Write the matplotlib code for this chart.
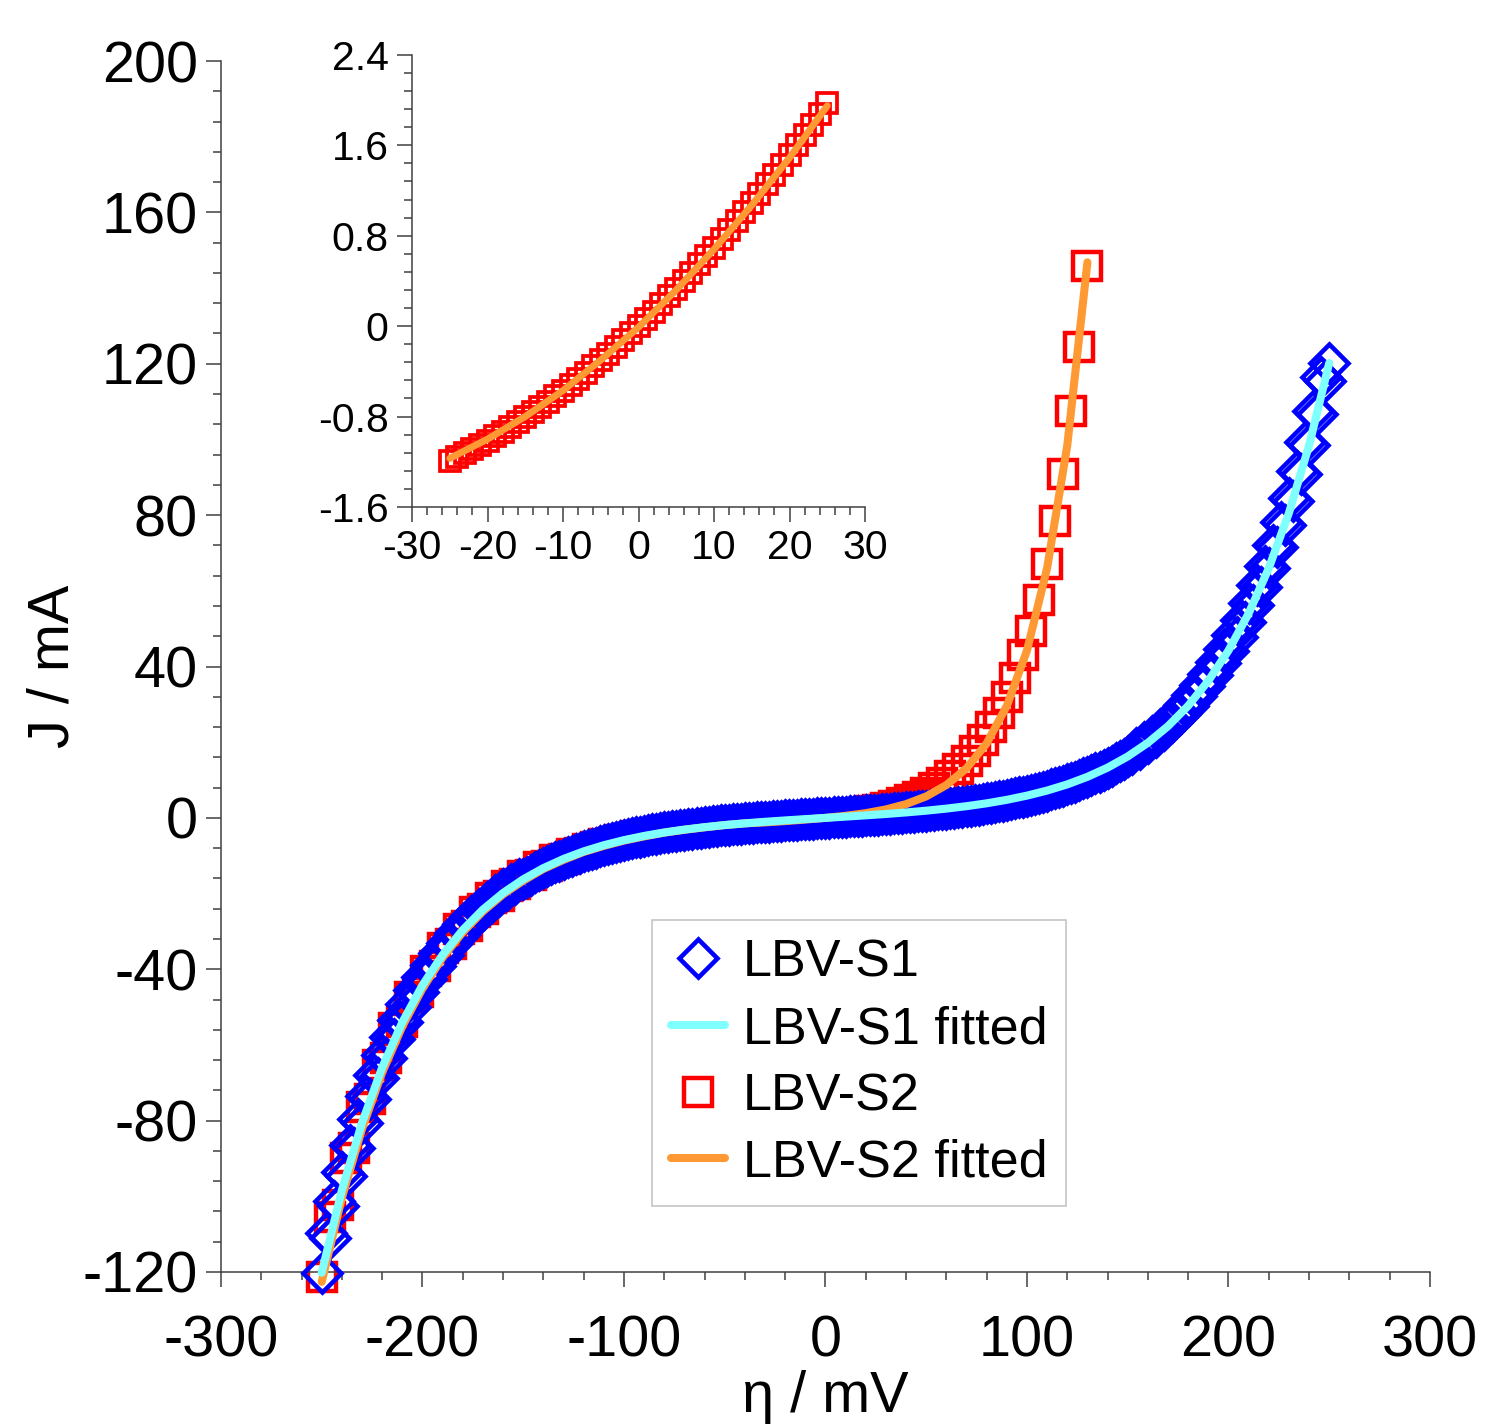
import matplotlib
matplotlib.use("Agg")
import matplotlib.pyplot as plt
from matplotlib.lines import Line2D
from matplotlib.ticker import MultipleLocator, FuncFormatter

plt.rcParams['font.family'] = ['Liberation Sans', 'DejaVu Sans']
plt.rcParams['axes.unicode_minus'] = False

# ---------------- LBV-S1: measured polarisation data (2 mV sweep) ----------------
s1_eta = list(range(-250, 252, 2))
s1_J_cathodic = [
    -120.20, -109.72, -110.96, -101.28, -102.43, -93.49, -94.56, -86.31, -87.29, -79.67,
    -80.57, -73.55, -74.38, -67.89, -68.66, -62.67, -63.38, -57.86, -58.51, -53.40,
    -54.01, -49.30, -49.86, -45.51, -46.02, -42.01, -42.49, -38.78, -39.22, -35.81,
    -36.21, -33.05, -33.42, -30.50, -30.85, -28.14, -28.46, -25.97, -26.27, -23.97,
    -24.24, -22.13, -22.38, -20.43, -20.65, -18.85, -19.06, -17.39, -17.58, -16.05,
    -16.23, -15.59, -14.98, -14.39, -13.82, -13.27, -12.75, -12.24, -11.76, -11.29,
    -10.85, -10.42, -10.00, -9.60, -9.22, -8.85, -8.50, -8.16, -7.84, -7.52,
    -7.22, -6.93, -6.65, -6.38, -6.12, -5.88, -5.64, -5.41, -5.18, -4.97,
    -4.77, -4.57, -4.38, -4.20, -4.02, -3.85, -3.68, -3.53, -3.37, -3.23,
    -3.09, -2.95, -2.82, -2.69, -2.57, -2.45, -2.33, -2.22, -2.11, -2.01,
    -1.90, -1.81, -1.71, -1.62, -1.53, -1.44, -1.35, -1.27, -1.19, -1.11,
    -1.03, -0.96, -0.88, -0.81, -0.74, -0.67, -0.60, -0.53, -0.46, -0.39,
    -0.33, -0.26, -0.19, -0.13, -0.07]
s1_J_anodic = [
    0.00, 0.07, 0.13, 0.19, 0.26, 0.33, 0.39, 0.46, 0.53, 0.60,
    0.67, 0.74, 0.81, 0.88, 0.96, 1.03, 1.11, 1.19, 1.27, 1.35,
    1.44, 1.53, 1.62, 1.71, 1.81, 1.90, 2.01, 2.11, 2.22, 2.33,
    2.45, 2.57, 2.69, 2.82, 2.95, 3.09, 3.23, 3.37, 3.53, 3.68,
    3.85, 4.02, 4.20, 4.38, 4.57, 4.77, 4.97, 5.18, 5.41, 5.64,
    5.88, 6.12, 6.38, 6.65, 6.93, 7.22, 7.52, 7.84, 8.16, 8.50,
    8.85, 9.22, 9.60, 10.00, 10.42, 10.85, 11.29, 11.76, 12.24, 12.75,
    13.27, 13.82, 14.39, 14.98, 15.59, 16.23, 16.89, 18.46, 18.30, 20.01,
    19.84, 21.68, 21.50, 23.50, 23.29, 25.45, 25.23, 27.58, 27.34, 29.88,
    29.62, 32.39, 32.11, 35.09, 34.79, 38.02, 37.69, 41.18, 40.82, 44.61,
    44.22, 48.32, 47.90, 52.35, 51.89, 56.71, 56.21, 61.44, 60.90, 66.55,
    65.97, 72.09, 71.46, 78.10, 77.42, 84.60, 83.86, 91.65, 90.85, 99.29,
    98.41, 107.55, 106.61, 116.51, 115.49, 120.20]
s1_J = s1_J_cathodic + s1_J_anodic

# ---------------- LBV-S1: Butler-Volmer fit ----------------
s1_fit_eta = list(range(-250, 260, 10))
s1_fit_J = [
    -120.2, -98.41, -80.57, -65.97, -54.01, -44.22, -36.21, -29.62, -24.24, -19.84,
    -16.23, -13.27, -10.85, -8.85, -7.22, -5.88, -4.77, -3.85, -3.09, -2.45,
    -1.90, -1.44, -1.03, -0.67, -0.33, 0.0,
    0.33, 0.67, 1.03, 1.44, 1.90, 2.45, 3.09, 3.85, 4.77, 5.88,
    7.22, 8.85, 10.85, 13.27, 16.23, 19.84, 24.24, 29.62, 36.21, 44.22,
    54.01, 65.97, 80.57, 98.41, 120.2]

# ---------------- LBV-S2: measured polarisation data (4 mV sweep) ----------------
s2_eta = list(range(-250, 134, 4))
s2_J = [
    -121.4, -105.4, -102.4, -89.8, -87.3, -76.5, -74.4, -65.2, -63.4, -55.6,
    -54.0, -47.4, -46.0, -40.4, -39.2, -34.4, -33.4, -29.3, -28.5, -25.0,
    -24.2, -21.3, -20.7, -18.1, -17.6, -15.4, -15.0, -13.1, -12.8, -11.2,
    -10.9, -9.5, -9.2, -8.1, -7.8, -6.9, -6.7, -5.8, -5.6, -4.9,
    -4.8, -4.2, -4.0, -3.5, -3.4, -2.95, -2.8, -2.45, -2.3, -2.05,
    -1.9, -1.75, -1.6, -1.5, -1.43, -1.33, -1.22, -1.09, -0.94, -0.76,
    -0.57, -0.36, -0.12,
    0.13, 0.40, 0.69, 1.01, 1.34, 1.69, 2.07, 2.6, 3.2, 3.9,
    4.7, 5.6, 6.7, 7.9, 9.3, 11.0, 12.9, 15.1, 17.6, 20.5,
    23.9, 27.7, 32.0, 37.0, 43.0, 49.5, 57.5, 67.0, 78.5, 91.0,
    107.5, 124.5, 145.8]

# ---------------- LBV-S2: Butler-Volmer fit ----------------
s2_fit_eta = list(range(-250, 140, 10))
s2_fit_J = [
    -122.6, -100.4, -82.2, -67.3, -55.1, -45.1, -36.9, -30.2, -24.7, -20.2,
    -16.6, -13.5, -11.1, -9.0, -7.4, -6.0, -4.9, -3.9, -3.15, -2.5,
    -1.9, -1.45, -1.2, -0.85, -0.45, 0.0, 0.55, 1.25, 2.24, 3.64,
    5.68, 8.68, 13.1, 19.7, 29.6, 44.2, 66.0, 98.4, 146.8]

# ---------------- LBV-S2 close to equilibrium (inset) ----------------
s2_lin_eta = list(range(-25, 26, 1))
s2_lin_J = [
    -1.190, -1.158, -1.124, -1.088, -1.052, -1.014, -0.976, -0.936, -0.894, -0.851,
    -0.808, -0.763, -0.717, -0.668, -0.619, -0.570, -0.518, -0.466, -0.411, -0.357,
    -0.300, -0.243, -0.184, -0.124, -0.062, 0.000, 0.064, 0.129, 0.195, 0.263,
    0.332, 0.402, 0.473, 0.546, 0.620, 0.694, 0.771, 0.848, 0.927, 1.007,
    1.088, 1.171, 1.255, 1.340, 1.426, 1.514, 1.603, 1.692, 1.784, 1.876,
    1.970]
s2_lin_fit_eta = [-25, -20, -15, -10, -5, 0, 5, 10, 15, 20, 25]
s2_lin_fit_J = [-1.17, -1.00, -0.80, -0.57, -0.30, -0.01, 0.32, 0.68, 1.07, 1.49, 1.95]

labels = ['LBV-S1', 'LBV-S1 fitted', 'LBV-S2', 'LBV-S2 fitted']

BLUE, CYAN, RED, ORANGE = '#0000FF', '#80FFFF', '#FF0000', '#FF9933'
SPINE = '#404040'
D_MS, D_MEW = 19.5, 3.3
S_MS, S_MEW = 20.5, 3.2
LW = 5.8

fig = plt.figure(figsize=(14.95, 14.26), dpi=100)
ax = fig.add_axes([0.1478, 0.1080, 0.8087, 0.8492])
ins = fig.add_axes([0.2756, 0.6445, 0.3030, 0.3170])

for a in (ax, ins):
    a.spines['top'].set_visible(False)
    a.spines['right'].set_visible(False)
    for s in ('left', 'bottom'):
        a.spines[s].set_color(SPINE)
        a.spines[s].set_linewidth(1.1)

# main panel
ax.plot(s2_eta, s2_J, ls='none', marker='s', ms=S_MS, mfc='none', mec=RED, mew=S_MEW,
        clip_on=False, zorder=2)
ax.plot(s1_eta, s1_J, ls='none', marker='D', ms=D_MS, mfc='none', mec=BLUE, mew=D_MEW,
        clip_on=False, zorder=3)
ax.plot(s2_fit_eta, s2_fit_J, color=ORANGE, lw=LW, solid_capstyle='round',
        clip_on=False, zorder=4)
ax.plot(s1_fit_eta, s1_fit_J, color=CYAN, lw=LW, solid_capstyle='round',
        clip_on=False, zorder=5)

ax.set_xlim(-300, 300)
ax.set_ylim(-120, 200)
ax.xaxis.set_major_locator(MultipleLocator(100))
ax.xaxis.set_minor_locator(MultipleLocator(20))
ax.yaxis.set_major_locator(MultipleLocator(40))
ax.yaxis.set_minor_locator(MultipleLocator(8))
ax.tick_params(which='major', direction='out', length=10.8, width=1.1, color=SPINE,
               labelsize=41.5)
ax.tick_params(which='minor', direction='out', length=5.8, width=1.1, color=SPINE)
ax.tick_params(axis='x', which='major', pad=20)
ax.tick_params(axis='y', which='major', pad=6)

ax.set_xlabel('η / mV', fontsize=41.5)
ax.xaxis.set_label_coords(0.5, -0.1160)
ax.xaxis.label.set_va('baseline')
ax.set_ylabel('J / mA', fontsize=41.5)
ax.yaxis.set_label_coords(-0.1385, 0.5)
ax.yaxis.label.set_va('center')

handles = [
    Line2D([], [], ls='none', marker='D', ms=D_MS, mfc='none', mec=BLUE, mew=D_MEW),
    Line2D([], [], color=CYAN, lw=LW, solid_capstyle='round'),
    Line2D([], [], ls='none', marker='s', ms=S_MS * 0.95, mfc='none', mec=RED, mew=S_MEW),
    Line2D([], [], color=ORANGE, lw=LW, solid_capstyle='round'),
]
leg = ax.legend(handles, labels, loc='upper left', bbox_to_anchor=(0.3565, 0.2908),
                borderaxespad=0, fontsize=37.5, frameon=True, fancybox=False,
                edgecolor='#C0C0C0', framealpha=1, borderpad=0.36, labelspacing=0.34,
                handlelength=1.05, handletextpad=0.34)
leg.get_frame().set_linewidth(1.1)

# inset: linear region around equilibrium
ins.plot(s2_lin_eta, s2_lin_J, ls='none', marker='s', ms=14, mfc='none', mec=RED,
         mew=2.7, zorder=2)
ins.plot(s2_lin_fit_eta, s2_lin_fit_J, color=ORANGE, lw=5, solid_capstyle='round',
         zorder=3)
ins.set_xlim(-30, 30)
ins.set_ylim(-1.6, 2.4)
ins.set_xticks([-30, -20, -10, 0, 10, 20, 30])
ins.xaxis.set_minor_locator(MultipleLocator(2))
ins.set_yticks([-1.6, -0.8, 0, 0.8, 1.6, 2.4])
ins.yaxis.set_minor_locator(MultipleLocator(0.16))
ins.yaxis.set_major_formatter(FuncFormatter(lambda v, p: '0' if abs(v) < 1e-9 else f'{v:.1f}'))
ins.tick_params(which='major', direction='out', length=10.8, width=1.1, color=SPINE,
                labelsize=29.5)
ins.tick_params(which='minor', direction='out', length=5.8, width=1.1, color=SPINE)
ins.tick_params(axis='x', which='major', pad=5)
ins.tick_params(axis='y', which='major', pad=6)

fig.savefig('out.png', dpi=100)
